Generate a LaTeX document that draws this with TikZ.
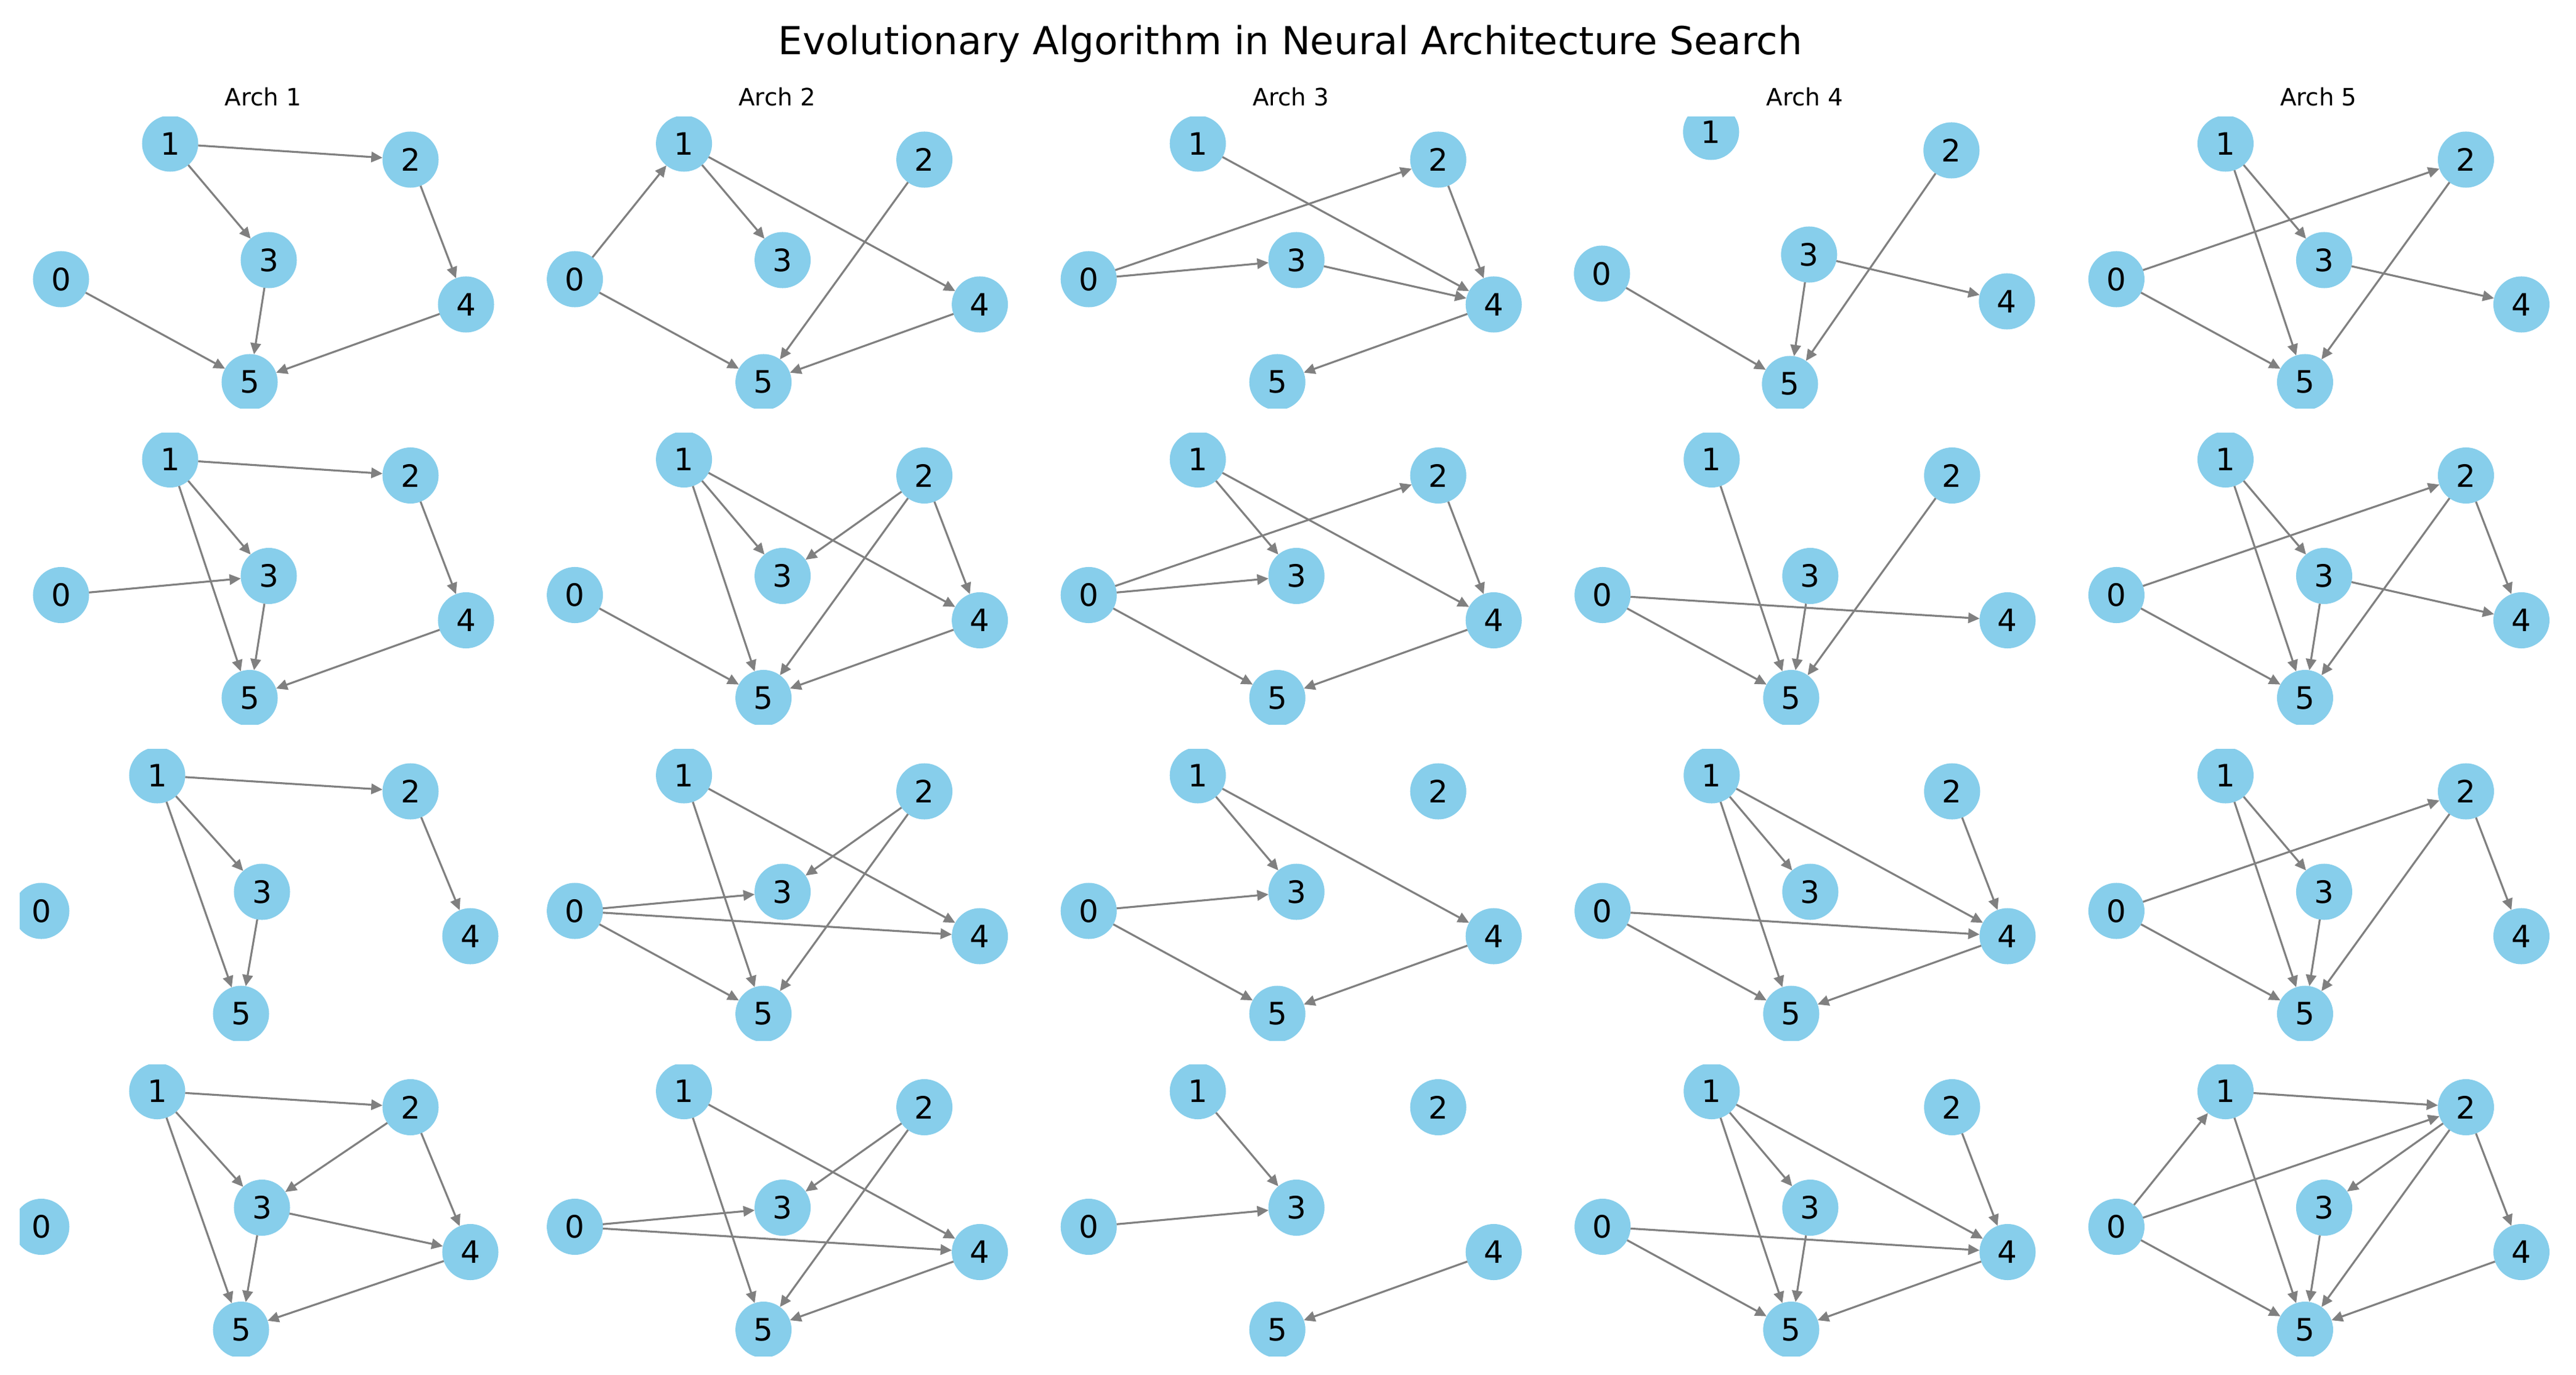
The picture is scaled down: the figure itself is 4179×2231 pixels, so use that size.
\documentclass[tikz,border=0pt]{standalone}
\usepackage{fontspec}
\setmainfont{DejaVu Sans}
\usetikzlibrary{arrows.meta}
\definecolor{skyblue}{HTML}{87CEEB}
\definecolor{edgegray}{HTML}{808080}
\tikzset{
  nd/.style={circle, fill=skyblue, minimum size=0.91cm, inner sep=0pt, outer sep=0pt,
    font=\fontsize{14.2}{17}\selectfont},
  ed/.style={draw=edgegray, line width=0.9pt, -{Triangle[length=5.2pt,width=4.8pt]}},
  subttl/.style={anchor=base, inner sep=0pt, font=\fontsize{11}{13}\selectfont},
  mainttl/.style={anchor=base, inner sep=0pt, font=\fontsize{17.8}{21}\selectfont},
}
\def\Lstd{0/99/453,1/276/233,2/666/259,3/436/422,4/756/494,5/405/620}
\def\La{0/67/453,1/255/233,2/666/259,3/425/422,4/763/494,5/391/620}
\def\Lb{0/98/444,1/275/214,2/665/244,3/434/413,4/755/489,5/403/623}
\newcommand\panel[5]{%
  \begin{scope}[shift={({#1*833.6},{#2*512.5})}, name prefix=#3-]
    \clip (32,190) rectangle (822,663);
    \foreach \k/\px/\py in #4 {\node[nd] (n\k) at (\px,\py) {\k};}
    \foreach \a/\b in {#5} {\draw[ed] (n\a) -- (n\b);}
  \end{scope}}
\begin{document}
\begin{tikzpicture}[x=0.01cm, y=-0.01cm]
\useasboundingbox[fill=white] (0,0) rectangle (4179,2231);
\node[mainttl] (title) at (2093,89) {Evolutionary Algorithm in Neural Architecture Search};
\foreach \c in {0,...,4} {
  \pgfmathtruncatemacro\num{\c+1}
  \node[subttl] (arch\num) at ({427+\c*833.6},172) {Arch \num};
}
% Arch 1
\panel{0}{0}{a1r1}{\Lstd}{1/2,1/3,2/4,3/5,0/5,4/5}
\panel{0}{1}{a1r2}{\Lstd}{1/2,1/3,1/5,0/3,3/5,2/4,4/5}
\panel{0}{2}{a1r3}{\La}{1/2,1/3,1/5,3/5,2/4}
\panel{0}{3}{a1r4}{\La}{1/2,1/3,1/5,2/3,2/4,3/4,3/5,4/5}
% Arch 2
\panel{1}{0}{a2r1}{\Lstd}{0/1,1/3,1/4,2/5,0/5,4/5}
\panel{1}{1}{a2r2}{\Lstd}{1/3,1/5,1/4,2/3,2/5,2/4,0/5,4/5}
\panel{1}{2}{a2r3}{\Lstd}{1/5,1/4,2/3,2/5,0/3,0/4,0/5}
\panel{1}{3}{a2r4}{\Lstd}{1/5,1/4,2/3,2/5,0/3,0/4,4/5}
% Arch 3
\panel{2}{0}{a3r1}{\Lstd}{1/4,0/2,0/3,2/4,3/4,4/5}
\panel{2}{1}{a3r2}{\Lstd}{1/3,1/4,0/2,0/3,0/5,2/4,4/5}
\panel{2}{2}{a3r3}{\Lstd}{1/3,1/4,0/3,0/5,4/5}
\panel{2}{3}{a3r4}{\Lstd}{1/3,0/3,4/5}
% Arch 4
\panel{3}{0}{a4r1}{\Lb}{0/5,3/5,3/4,2/5}
\panel{3}{1}{a4r2}{\Lstd}{1/5,2/5,0/4,0/5,3/5}
\panel{3}{2}{a4r3}{\Lstd}{1/3,1/5,1/4,2/4,0/4,0/5,4/5}
\panel{3}{3}{a4r4}{\Lstd}{1/3,1/5,1/4,2/4,0/4,0/5,3/5,4/5}
% Arch 5
\panel{4}{0}{a5r1}{\Lstd}{0/2,0/5,1/3,1/5,2/5,3/4}
\panel{4}{1}{a5r2}{\Lstd}{0/2,0/5,1/3,1/5,2/5,2/4,3/4,3/5}
\panel{4}{2}{a5r3}{\Lstd}{0/2,0/5,1/3,1/5,2/5,2/4,3/5}
\panel{4}{3}{a5r4}{\Lstd}{0/1,0/2,0/5,1/2,1/5,2/3,2/5,2/4,3/5,4/5}
\end{tikzpicture}
\end{document}
